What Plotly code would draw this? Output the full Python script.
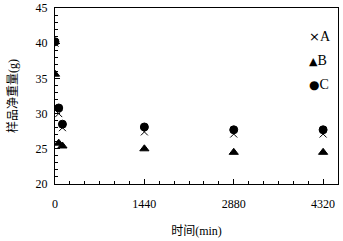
import plotly.graph_objects as go

time_min = [0, 60, 120, 1440, 2880, 4320]
series_names = ["A", "B", "C"]
values_A = [40.0, 30.0, 28.0, 27.4, 27.1, 27.1]
values_B = [35.6, 25.8, 25.4, 25.0, 24.5, 24.5]
values_C = [40.2, 30.8, 28.5, 28.1, 27.7, 27.7]
x_ticks = [0, 1440, 2880, 4320]
y_ticks = [20, 25, 30, 35, 40, 45]

symbols = ["x-thin", "triangle-up", "circle"]
legend_glyphs = ["×", "▲", "●"]
sizes = [7, 8, 8]
serif = "Liberation Serif, Times New Roman, serif"
cjk = "Liberation Serif, Noto Sans CJK SC, serif"

fig = go.Figure()
for i, (name, vals) in enumerate(zip(series_names, [values_A, values_B, values_C])):
    fig.add_trace(go.Scatter(
        x=time_min, y=vals, mode="markers", name=name, showlegend=False,
        marker=dict(symbol=symbols[i], size=sizes[i], color="black",
                    line=dict(color="black", width=1)),
    ))

# legend drawn as text in the upper right
glyph_sizes = [13, 11, 12]
for i, name in enumerate(series_names):
    fig.add_annotation(
        xref="paper", yref="paper", x=0.89, y=0.837 - i * 0.137,
        xanchor="left", yanchor="middle", showarrow=False,
        text=f"<span style='font-family:DejaVu Sans;font-size:{glyph_sizes[i]}px'>{legend_glyphs[i]}</span>{name}",
        font=dict(family=serif, size=14, color="black"),
    )

axis_common = dict(showline=True, linecolor="black", linewidth=1, mirror=True,
                   ticks="inside", ticklen=5, tickcolor="black", showgrid=False,
                   zeroline=False, tickfont=dict(family=serif, size=12, color="black"))

fig.update_xaxes(range=[0, 4560], tickvals=x_ticks,
                 minor=dict(dtick=240, ticks="inside", ticklen=3, tickcolor="black"),
                 title=dict(text="时间(min)", font=dict(family=cjk, size=12, color="black"), standoff=16),
                 ticklabelstandoff=9,
                 **axis_common)
fig.update_yaxes(range=[20, 45], tickvals=y_ticks,
                 minor=dict(dtick=1, ticks="inside", ticklen=3, tickcolor="black"),
                 title=dict(text="样品净重量(g)", font=dict(family=cjk, size=12, color="black"), standoff=15),
                 ticklabelstandoff=4,
                 **axis_common)

fig.update_layout(
    width=343, height=241,
    margin=dict(l=54.5, r=5, t=8, b=57, autoexpand=False),
    plot_bgcolor="white", paper_bgcolor="white",
    showlegend=False,
)

fig.write_html("out.html", config={"displayModeBar": False},
               post_script="document.body.style.margin='0';document.body.style.overflow='hidden';")
